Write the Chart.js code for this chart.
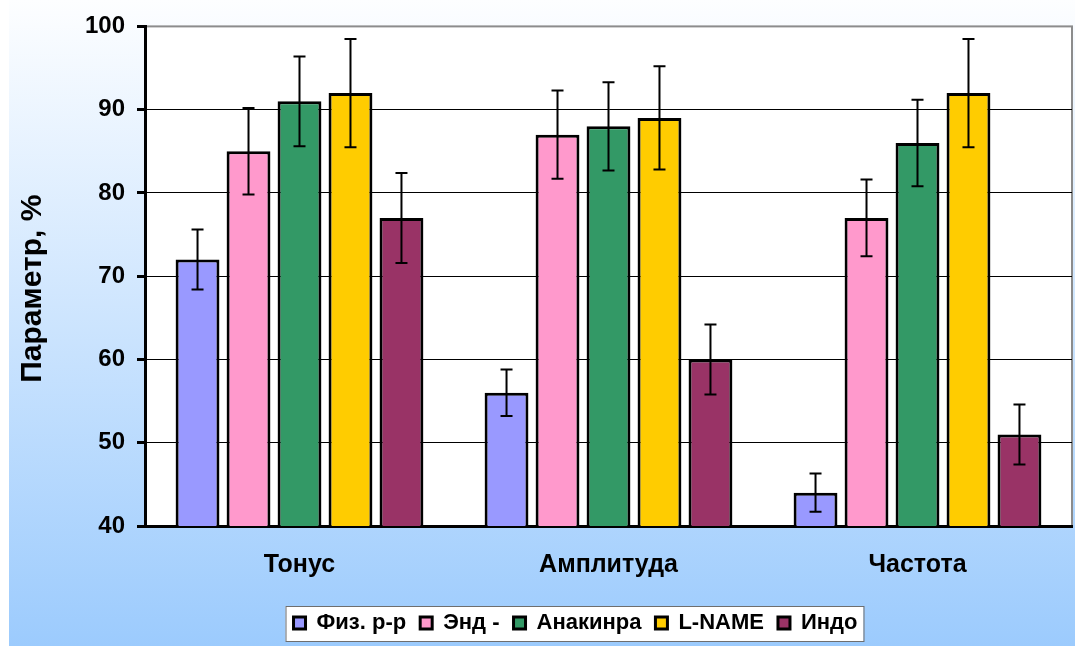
<!DOCTYPE html>
<html lang="ru">
<head>
    <meta charset="UTF-8">
    <title>Параметр, %</title>
    <script src="https://cdn.jsdelivr.net/npm/chart.js"></script>
    <style>
        html, body {
            margin: 0;
            padding: 0;
            background: #ffffff;
            overflow: hidden;
        }
        canvas {
            display: block;
        }
    </style>
</head>
<body>
    <canvas id="paramChart" width="1075" height="646"></canvas>

    <script>
        // Data
        const categories = ['Тонус', 'Амплитуда', 'Частота'];
        const seriesNames = ['Физ. р-р', 'Энд -', 'Анакинра', 'L-NAME', 'Индо'];
        const fizValues = [72, 56, 44];
        const endValues = [85, 87, 77];
        const anakinraValues = [91, 88, 86];
        const lnameValues = [92, 89, 92];
        const indoValues = [77, 60, 51];
        // error (± half-range) for each bar
        const fizErrors = [3.6, 2.8, 2.3];
        const endErrors = [5.2, 5.3, 4.6];
        const anakinraErrors = [5.4, 5.3, 5.2];
        const lnameErrors = [6.5, 6.2, 6.5];
        const indoErrors = [5.4, 4.2, 3.6];
        const yTicks = [40, 50, 60, 70, 80, 90, 100];

        const colors = ['#9999ff', '#ff99cc', '#339966', '#ffcc00', '#993366'];
        const allValues = [fizValues, endValues, anakinraValues, lnameValues, indoValues];
        const allErrors = [fizErrors, endErrors, anakinraErrors, lnameErrors, indoErrors];

        const font = "Arial, 'Liberation Sans', sans-serif";
        const legendShift = 35; // legend sits a bit right of centre in the original

        // background gradient + white plot area with grey frame
        const backgroundPlugin = {
            id: 'backgroundPlugin',
            afterUpdate(chart) {
                const legend = chart.legend;
                if (!legend) return;
                legend.left += legendShift;
                legend.right += legendShift;
                legend.legendHitBoxes.forEach(hb => { hb.left += legendShift; });
            },
            beforeDraw(chart) {
                const ctx = chart.ctx;
                const { left, right, top, bottom } = chart.chartArea;
                const grad = ctx.createLinearGradient(0, 0, 0, chart.height);
                grad.addColorStop(0, '#fdfeff');
                grad.addColorStop(1, '#9ccbfd');
                ctx.save();
                ctx.fillStyle = grad;
                ctx.fillRect(9, 0, chart.width - 9, chart.height);
                ctx.fillStyle = '#ffffff';
                ctx.fillRect(left, top, right - left, bottom - top);
                ctx.strokeStyle = '#8c8c8c';
                ctx.lineWidth = 2;
                ctx.strokeRect(left, top, right - left, bottom - top);

                // white legend box
                const boxes = chart.legend && chart.legend.legendHitBoxes;
                if (boxes && boxes.length) {
                    const first = boxes[0];
                    const last = boxes[boxes.length - 1];
                    const cy = first.top + first.height / 2;
                    const x0 = first.left - 8;
                    const x1 = last.left + last.width + 6;
                    const y0 = cy - 17;
                    const y1 = cy + 18;
                    ctx.fillStyle = '#ffffff';
                    ctx.fillRect(x0, y0, x1 - x0, y1 - y0);
                    ctx.strokeStyle = '#6e6e6e';
                    ctx.lineWidth = 1;
                    ctx.strokeRect(x0 + 0.5, y0 + 0.5, x1 - x0, y1 - y0);
                }
                ctx.restore();
            }
        };

        // error bars drawn through the y scale
        const errorBarPlugin = {
            id: 'errorBarPlugin',
            afterDatasetsDraw(chart) {
                const ctx = chart.ctx;
                const yScale = chart.scales.y;
                ctx.save();
                ctx.strokeStyle = '#000000';
                ctx.lineWidth = 2;
                chart.data.datasets.forEach((ds, i) => {
                    const meta = chart.getDatasetMeta(i);
                    meta.data.forEach((bar, j) => {
                        const v = ds.data[j];
                        const e = ds.errors[j];
                        const yHi = yScale.getPixelForValue(v + e);
                        const yLo = yScale.getPixelForValue(v - e);
                        ctx.beginPath();
                        ctx.moveTo(bar.x, yHi);
                        ctx.lineTo(bar.x, yLo);
                        ctx.moveTo(bar.x - 6, yHi);
                        ctx.lineTo(bar.x + 6, yHi);
                        ctx.moveTo(bar.x - 6, yLo);
                        ctx.lineTo(bar.x + 6, yLo);
                        ctx.stroke();
                    });
                });
                ctx.restore();
            }
        };

        const ctx = document.getElementById('paramChart').getContext('2d');
        const paramChart = new Chart(ctx, {
            type: 'bar',
            data: {
                labels: categories,
                datasets: seriesNames.map((name, i) => ({
                    label: name,
                    data: allValues[i],
                    errors: allErrors[i],
                    backgroundColor: colors[i],
                    borderColor: '#000000',
                    borderWidth: 3,
                    borderSkipped: false,
                    categoryPercentage: 0.825,
                    barPercentage: 0.86
                }))
            },
            options: {
                responsive: false,
                animation: false,
                devicePixelRatio: 1,
                layout: {
                    padding: { left: 9, right: 3, top: 26, bottom: 2 }
                },
                plugins: {
                    legend: {
                        display: true,
                        position: 'bottom',
                        labels: {
                            color: '#000000',
                            font: { family: font, size: 22, weight: 'bold' },
                            boxWidth: 12,
                            boxHeight: 12,
                            padding: 14
                        }
                    },
                    tooltip: { enabled: false }
                },
                scales: {
                    x: {
                        grid: { display: false },
                        border: { display: true, color: '#000000', width: 3 },
                        ticks: {
                            color: '#000000',
                            font: { family: font, size: 25, weight: 'bold' },
                            padding: 16
                        },
                        afterFit(scale) {
                            scale.height = 72;
                        }
                    },
                    y: {
                        min: 40,
                        max: 100,
                        afterBuildTicks(scale) {
                            scale.ticks = yTicks.map(v => ({ value: v }));
                        },
                        grid: {
                            color: (c) => (c.tick && c.tick.value === 100) ? '#8c8c8c' : '#000000',
                            lineWidth: 1,
                            tickColor: '#000000',
                            tickWidth: 3,
                            tickLength: 8
                        },
                        border: { display: true, color: '#000000', width: 3 },
                        ticks: {
                            color: '#000000',
                            font: { family: font, size: 24, weight: 'bold' },
                            padding: 12
                        },
                        title: {
                            display: true,
                            text: 'Параметр, %\u00a0\u00a0\u00a0',
                            color: '#000000',
                            font: { family: font, size: 30, weight: 'bold' },
                            padding: { top: 6, bottom: 0 }
                        },
                        afterFit(scale) {
                            scale.width = 136;
                        }
                    }
                }
            },
            plugins: [backgroundPlugin, errorBarPlugin]
        });
    </script>
</body>
</html>
